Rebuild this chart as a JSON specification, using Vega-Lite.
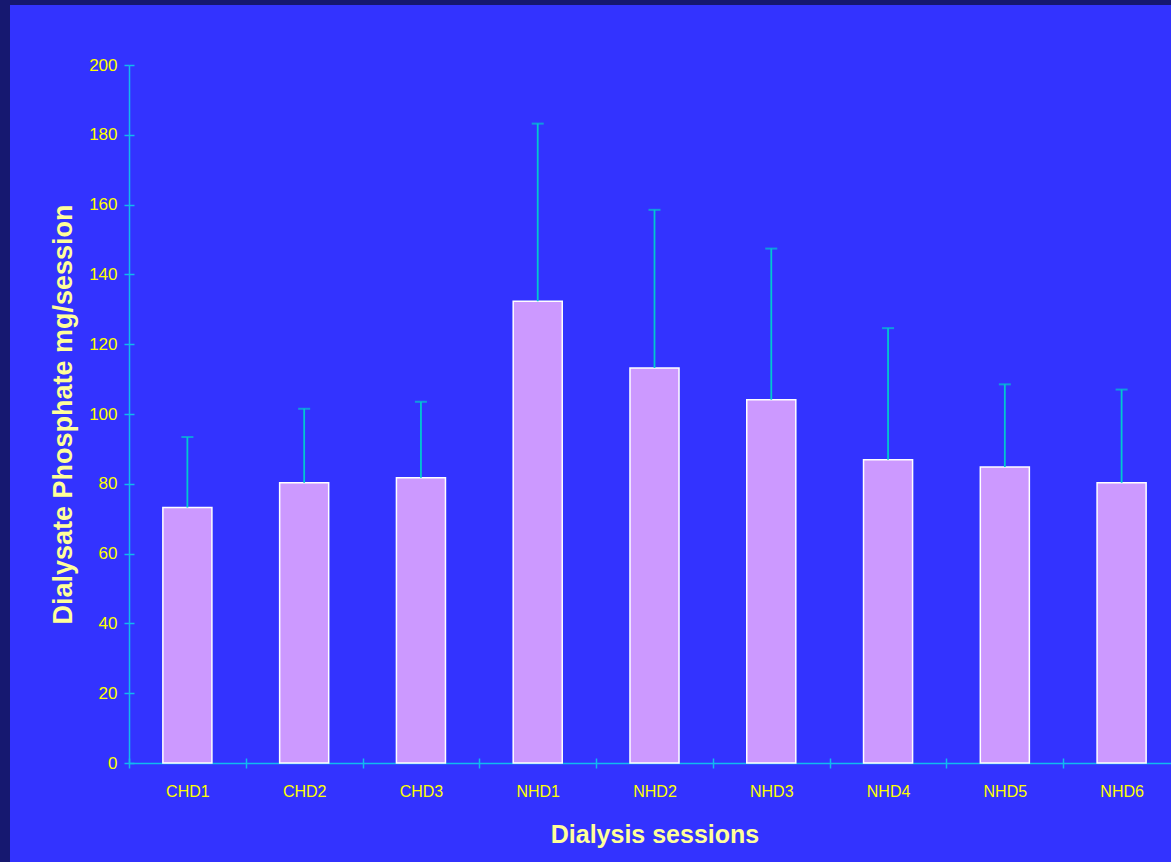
{
  "$schema": "https://vega.github.io/schema/vega-lite/v6.json",
  "autosize": {"type": "none"},
  "width": 1161,
  "height": 857,
  "padding": {"left": 10, "top": 5, "right": 0, "bottom": 0},
  "background": "#161870",
  "config": {
    "view": {"fill": "#3333FF", "stroke": null},
    "axis": {"grid": false}
  },
  "data": {
    "values": [
      {"session": "CHD1", "mean": 73.2, "upper": 93.4},
      {"session": "CHD2", "mean": 80.3, "upper": 101.5},
      {"session": "CHD3", "mean": 81.7, "upper": 103.5},
      {"session": "NHD1", "mean": 132.3, "upper": 183.2},
      {"session": "NHD2", "mean": 113.2, "upper": 158.5},
      {"session": "NHD3", "mean": 104.1, "upper": 147.4},
      {"session": "NHD4", "mean": 86.9, "upper": 124.6},
      {"session": "NHD5", "mean": 84.8, "upper": 108.5},
      {"session": "NHD6", "mean": 80.3, "upper": 107.0}
    ]
  },
  "resolve": {"axis": {"x": "independent", "y": "independent"}},
  "layer": [
    {
      "mark": {"type": "bar", "width": {"band": 0.42}, "fill": "#CC99FF", "stroke": "#FFFFFF", "strokeWidth": 1.5},
      "encoding": {
        "x": {
          "field": "session", "type": "nominal", "sort": null,
          "scale": {"type": "band", "range": [119, 1170], "paddingInner": 0, "paddingOuter": 0},
          "axis": {
            "orient": "bottom", "offset": -99,
            "domainColor": "#11BBEE", "domainWidth": 1.5,
            "tickColor": "#11BBEE", "tickWidth": 1.5, "tickSize": 5, "tickBand": "extent",
            "labelAngle": 0, "labelColor": "#FFFF00", "labelFont": "Liberation Sans",
            "labelFontSize": 16, "labelPadding": 15,
            "title": "Dialysis sessions", "titleFont": "Liberation Sans", "titleFontWeight": "bold",
            "titleFontSize": 25, "titleColor": "#FFFF99", "titlePadding": 23
          }
        },
        "y": {
          "field": "mean", "type": "quantitative",
          "scale": {"domain": [0, 200], "range": [758, 60], "nice": false, "zero": true},
          "axis": {
            "orient": "left", "offset": -119,
            "values": [0, 20, 40, 60, 80, 100, 120, 140, 160, 180, 200],
            "domainColor": "#11BBEE", "domainWidth": 1.5,
            "tickColor": "#11BBEE", "tickWidth": 1.5, "tickSize": 5,
            "labelColor": "#FFFF00", "labelFont": "Liberation Sans",
            "labelFontSize": 17, "labelPadding": 7,
            "title": "Dialysate Phosphate mg/session", "titleFont": "Liberation Sans", "titleFontWeight": "bold",
            "titleFontSize": 27, "titleColor": "#FFFF99", "titlePadding": 11
          }
        }
      }
    },
    {
      "mark": {"type": "rule", "color": "#00C8D0", "strokeWidth": 1.8},
      "encoding": {
        "x": {
          "field": "session", "type": "nominal", "sort": null,
          "axis": {
            "orient": "bottom", "offset": -104, "domain": false, "labels": false, "title": null,
            "tickColor": "#11BBEE", "tickWidth": 1.5, "tickSize": 5, "tickBand": "extent"
          }
        },
        "y": {
          "field": "mean", "type": "quantitative",
          "axis": {
            "orient": "left", "offset": -124, "domain": false, "labels": false, "title": null,
            "values": [0, 20, 40, 60, 80, 100, 120, 140, 160, 180, 200],
            "tickColor": "#11BBEE", "tickWidth": 1.5, "tickSize": 5
          }
        },
        "y2": {"field": "upper"}
      }
    },
    {
      "mark": {"type": "tick", "color": "#00C8D0", "size": 12, "thickness": 2, "orient": "horizontal"},
      "encoding": {
        "x": {"field": "session", "type": "nominal", "sort": null, "axis": null},
        "y": {"field": "upper", "type": "quantitative", "axis": null}
      }
    }
  ]
}
